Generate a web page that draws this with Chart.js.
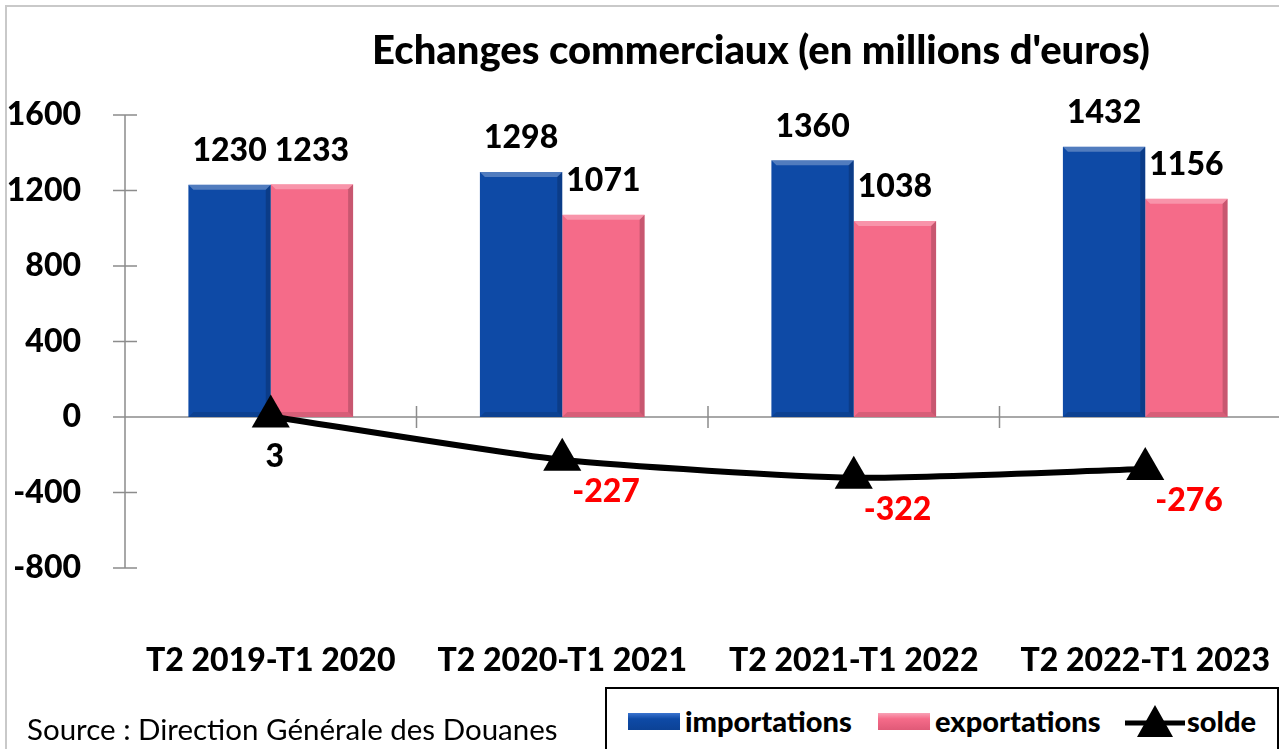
<!DOCTYPE html>
<html>
<head>
<meta charset="utf-8">
<script src="https://cdn.jsdelivr.net/npm/chart.js@4/dist/chart.umd.min.js"></script>
<style>
  html, body { margin: 0; padding: 0; background: #fff; }
  #wrap { position: relative; width: 1279px; height: 749px; overflow: hidden; background: #fff; }
  #frame { position: absolute; left: 5px; top: 5px; width: 1400px; height: 900px;
           border-left: 2px solid #c9c9c9; border-top: 2px solid #c9c9c9; }
  #chart { position: absolute; left: 0; top: 0; }
  #title { position: absolute; left: 0; width: 1522px; top: 25px; text-align: center;
           font: 900 40px Lato, sans-serif; color: #000; white-space: nowrap; }
  #source { position: absolute; left: 27px; top: 711px; font: 29.5px Lato, sans-serif; color: #000; white-space: nowrap; }
  #legend { position: absolute; left: 605px; top: 687px; width: 670px; height: 80px;
            border: 2px solid #000; background: #fff; }
  .item { position: absolute; top: 15px; font: 900 29px Lato, sans-serif; color: #000; line-height: 34px; white-space: nowrap; }
  .swatch { position: absolute; top: 24px; width: 52px; height: 17px; }
</style>
</head>
<body>
<div id="wrap">
  <div id="frame"></div>
  <canvas id="chart" width="1313" height="749"></canvas>
  <div id="title">Echanges commerciaux (en millions d'euros)</div>
  <div id="source">Source : Direction Générale des Douanes</div>
  <div id="legend">
    <div class="swatch" style="left:21px;background:linear-gradient(#3a74d0,#0e4aa6 35%,#0c4296);"></div>
    <div class="item" style="left:78px;">importations</div>
    <div class="swatch" style="left:271px;background:linear-gradient(#f9a2b6,#f56b89 35%,#e05a78);"></div>
    <div class="item" style="left:328px;">exportations</div>
    <canvas id="lineKey" width="64" height="40" style="position:absolute;left:516px;top:12px;"></canvas>
    <div class="item" style="left:580px;">solde</div>
  </div>
</div>
<script>
// --- données ---
const categories = ['T2 2019-T1 2020', 'T2 2020-T1 2021', 'T2 2021-T1 2022', 'T2 2022-T1 2023'];
const importations = [1230, 1298, 1360, 1432];
const exportations = [1233, 1071, 1038, 1156];
const solde = [3, -227, -322, -276];
const yMin = -800;
const yMax = 1600;
const yStep = 400;

const BLUE = '#0e4aa6';
const PINK = '#f56b89';
const AXIS = '#8c8c8c';
const FONT = 'Lato, sans-serif';
const HEAVY = '900 ';

// symbole de la légende "solde"
(function drawLineKey() {
  const c = document.getElementById('lineKey').getContext('2d');
  c.strokeStyle = '#000';
  c.lineWidth = 5;
  c.beginPath(); c.moveTo(2, 22); c.lineTo(62, 22); c.stroke();
  c.fillStyle = '#000';
  c.beginPath(); c.moveTo(32, 4); c.lineTo(50, 36); c.lineTo(14, 36); c.closePath(); c.fill();
})();

// axes "à la Excel" : lignes grises avec graduations croisées + libellés de catégories
const excelAxes = {
  id: 'excelAxes',
  beforeDatasetsDraw(chart) {
    const { ctx, scales: { x, y } } = chart;
    const x0 = chart.chartArea.left;
    const zero = y.getPixelForValue(0);
    ctx.save();
    ctx.strokeStyle = AXIS;
    ctx.lineWidth = 1.5;
    ctx.beginPath();
    ctx.moveTo(x0, y.getPixelForValue(yMax));
    ctx.lineTo(x0, y.getPixelForValue(yMin));
    for (let v = yMin; v <= yMax; v += yStep) {
      const py = y.getPixelForValue(v);
      ctx.moveTo(x0 - 12, py);
      ctx.lineTo(x0 + 12, py);
    }
    ctx.moveTo(x0, zero);
    ctx.lineTo(chart.width, zero);
    for (let i = 1; i < categories.length; i++) {
      const px = (x.getPixelForValue(i - 1) + x.getPixelForValue(i)) / 2;
      ctx.moveTo(px, zero - 11);
      ctx.lineTo(px, zero + 11);
    }
    ctx.stroke();

    ctx.fillStyle = '#000';
    ctx.font = HEAVY + '32px ' + FONT;
    ctx.textAlign = 'center';
    ctx.textBaseline = 'middle';
    categories.forEach((c, i) => {
      ctx.fillText(c, x.getPixelForValue(i), chart.chartArea.bottom + 93);
    });
    ctx.restore();
  }
};

// petit effet de biseau sur les barres
const bevel = {
  id: 'bevel',
  afterDatasetsDraw(chart) {
    const { ctx } = chart;
    ctx.save();
    chart.data.datasets.forEach((ds, di) => {
      if (ds.type !== 'bar') return;
      chart.getDatasetMeta(di).data.forEach((el) => {
        const l = el.x - el.width / 2, r = el.x + el.width / 2, t = el.y, b = el.base;
        const e = 5;
        ctx.fillStyle = 'rgba(255,255,255,0.28)';
        ctx.beginPath();
        ctx.moveTo(l, t); ctx.lineTo(r, t); ctx.lineTo(r - e, t + e); ctx.lineTo(l + e, t + e);
        ctx.closePath(); ctx.fill();
        ctx.fillStyle = 'rgba(0,0,0,0.18)';
        ctx.beginPath();
        ctx.moveTo(r, t); ctx.lineTo(r, b); ctx.lineTo(r - e, b - e); ctx.lineTo(r - e, t + e);
        ctx.closePath(); ctx.fill();
        ctx.fillStyle = 'rgba(0,0,0,0.12)';
        ctx.beginPath();
        ctx.moveTo(l, b); ctx.lineTo(r, b); ctx.lineTo(r - e, b - e); ctx.lineTo(l + e, b - e);
        ctx.closePath(); ctx.fill();
      });
    });
    ctx.restore();
  }
};

// étiquettes de valeurs
const valueLabels = {
  id: 'valueLabels',
  afterDatasetsDraw(chart) {
    const { ctx } = chart;
    ctx.save();
    ctx.font = HEAVY + '32px ' + FONT;
    ctx.textBaseline = 'middle';
    chart.data.datasets.forEach((ds, di) => {
      const meta = chart.getDatasetMeta(di);
      meta.data.forEach((el, i) => {
        const v = ds.data[i];
        if (ds.type === 'line') {
          if (v >= 0) {
            ctx.fillStyle = '#000';
            ctx.textAlign = 'center';
            ctx.fillText(String(v), el.x + 4, el.y + 40);
          } else {
            ctx.fillStyle = '#ff0000';
            ctx.textAlign = 'left';
            ctx.fillText(String(v), el.x + 10, el.y + 32);
          }
        } else {
          ctx.fillStyle = '#000';
          ctx.textAlign = 'center';
          ctx.fillText(String(v), el.x, el.y - 34);
        }
      });
    });
    ctx.restore();
  }
};

new Chart(document.getElementById('chart'), {
  data: {
    labels: categories,
    datasets: [
      {
        type: 'line',
        label: 'solde',
        data: solde,
        borderColor: '#000',
        borderWidth: 6,
        backgroundColor: '#000',
        pointStyle: 'triangle',
        pointRadius: 22,
        pointBackgroundColor: '#000',
        pointBorderWidth: 0,
        tension: 0.2,
        order: 0
      },
      {
        type: 'bar',
        label: 'importations',
        data: importations,
        backgroundColor: BLUE,
        borderWidth: 0,
        order: 1
      },
      {
        type: 'bar',
        label: 'exportations',
        data: exportations,
        backgroundColor: PINK,
        borderWidth: 0,
        order: 1
      }
    ]
  },
  options: {
    responsive: false,
    animation: false,
    datasets: { bar: { barPercentage: 1, categoryPercentage: 0.565 } },
    layout: { padding: { top: 115, right: 11, left: 0, bottom: 0 } },
    plugins: {
      legend: { display: false },
      tooltip: { enabled: false },
      title: { display: false }
    },
    scales: {
      x: {
        grid: { display: false },
        border: { display: false },
        ticks: { display: false },
        afterFit: (s) => { s.height = 181; }
      },
      y: {
        min: yMin,
        max: yMax,
        grid: { display: false },
        border: { display: false },
        ticks: {
          stepSize: yStep,
          color: '#000',
          font: { family: FONT, size: 32, weight: '900' },
          padding: 36,
          callback: (v) => String(v)
        },
        afterFit: (s) => { s.width = 125; }
      }
    }
  },
  plugins: [excelAxes, bevel, valueLabels]
});
</script>
</body>
</html>
